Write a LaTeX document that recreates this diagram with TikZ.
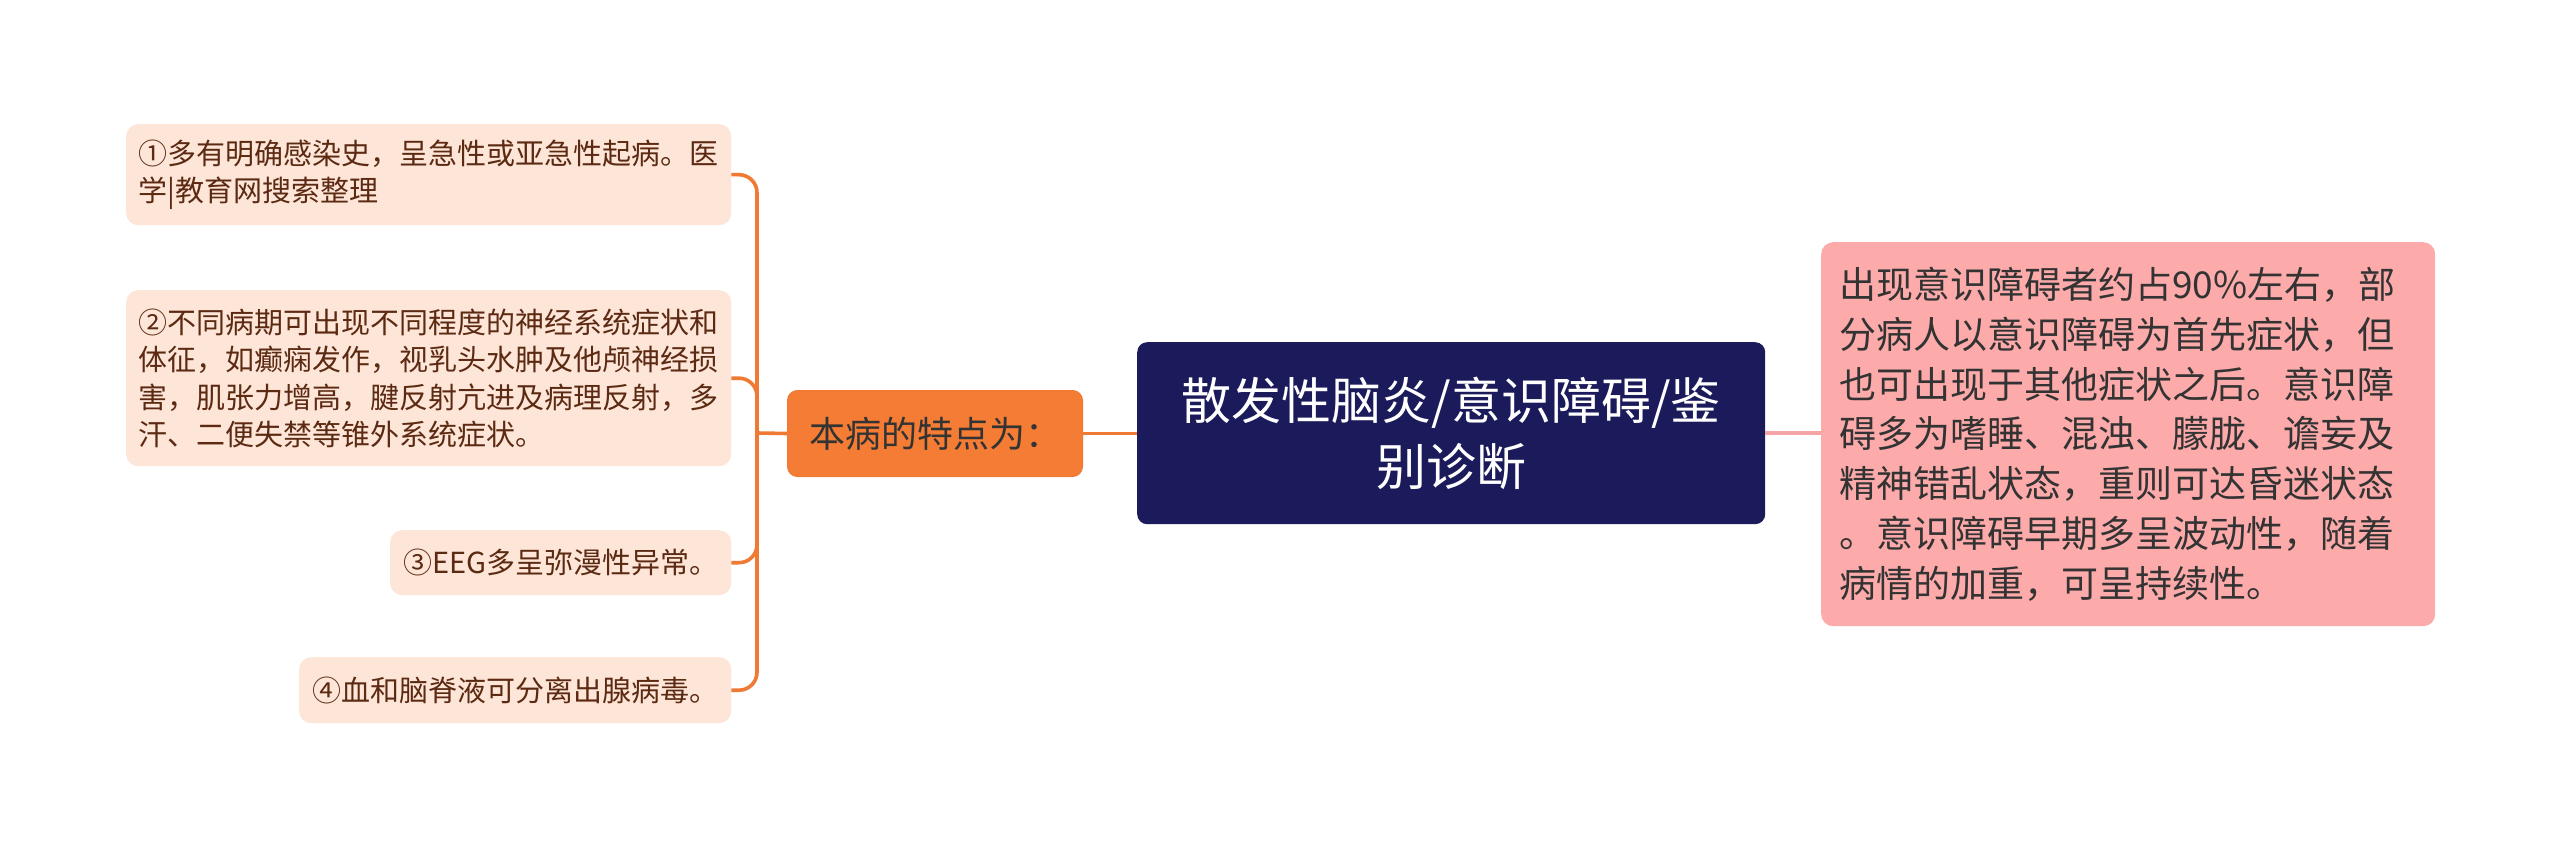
\documentclass[tikz,border=0pt]{standalone}
\usepackage{fontspec}
\setmainfont{Noto Sans CJK SC}
\definecolor{leftfill}{HTML}{FDE5D8}
\definecolor{lefttext}{HTML}{5C2A12}
\definecolor{orangefill}{HTML}{F47C34}
\definecolor{orangeline}{HTML}{F07A33}
\definecolor{navy}{HTML}{1B1A5B}
\definecolor{pinkfill}{HTML}{FCAAAA}
\definecolor{pinkline}{HTML}{F4A4A4}
\definecolor{darktext}{HTML}{333333}
\begin{document}
\begin{tikzpicture}[x=1pt,y=-1pt,
  leftbox/.style={draw=none, fill=leftfill, rounded corners=12pt, anchor=north west,
    inner xsep=12pt, inner ysep=0pt, text=lefttext,
    font=\fontsize{29}{37.5}\selectfont, align=left},
  mainbox/.style={fill=orangefill, draw=orangeline, line width=1pt, rounded corners=10pt,
    anchor=north west, inner sep=0pt, text=darktext, font=\fontsize{36}{44}\selectfont},
  rootbox/.style={fill=navy, draw=none, rounded corners=10pt, anchor=north west,
    inner sep=0pt, text=white, font=\fontsize{50}{66}\selectfont, align=center},
  notebox/.style={fill=pinkfill, draw=none, rounded corners=12pt, anchor=north west,
    inner xsep=18pt, inner ysep=0pt, text=darktext,
    font=\fontsize{37}{49.7}\selectfont, align=left},
  conn/.style={draw=orangeline, line width=3.6pt},
  pinkconn/.style={draw=pinkline, line width=3.6pt}
]
\useasboundingbox[fill=white] (0,0) rectangle (2560,848);

\node[leftbox, minimum width=605pt, minimum height=101pt, text width=581pt] (b1) at (126,124)
  {①多有明确感染史，呈急性或亚急性起病。医\\学|教育网搜索整理};
\node[leftbox, minimum width=605pt, minimum height=176pt, text width=581pt] (b2) at (126,290)
  {②不同病期可出现不同程度的神经系统症状和\\体征，如癫痫发作，视乳头水肿及他颅神经损\\害，肌张力增高，腱反射亢进及病理反射，多\\汗、二便失禁等锥外系统症状。};
\node[leftbox, minimum width=341pt, minimum height=65pt, align=center] (b3) at (390,530)
  {③EEG多呈弥漫性异常。};
\node[leftbox, minimum width=432pt, minimum height=66pt, align=center] (b4) at (299,657)
  {④血和脑脊液可分离出腺病毒。};

\node[mainbox, minimum width=295pt, minimum height=86pt] (o) at (787,390) {本病的特点为：};

\node[rootbox, minimum width=628pt, minimum height=182pt] (c) at (1137,342)
  {散发性脑炎/意识障碍/鉴\\别诊断};

\node[notebox, minimum width=614pt, minimum height=384pt, text width=578pt] (p) at (1821,242)
  {出现意识障碍者约占90\%左右，部\\分病人以意识障碍为首先症状，但\\也可出现于其他症状之后。意识障\\碍多为嗜睡、混浊、朦胧、谵妄及\\精神错乱状态，重则可达昏迷状态\\。意识障碍早期多呈波动性，随着\\病情的加重，可呈持续性。};

\coordinate (j) at (757,433);
\draw[conn] (o.west) -- (j);
\draw[conn, rounded corners=18pt] (j) |- (b1.east);
\draw[conn, rounded corners=18pt] (j) |- (b2.east);
\draw[conn, rounded corners=18pt] (j) |- (b3.east);
\draw[conn, rounded corners=18pt] (j) |- (b4.east);
\draw[conn] (o.east) -- (o.east -| c.west);
\draw[pinkconn] (c.east) -- (c.east -| p.west);
\end{tikzpicture}
\end{document}
